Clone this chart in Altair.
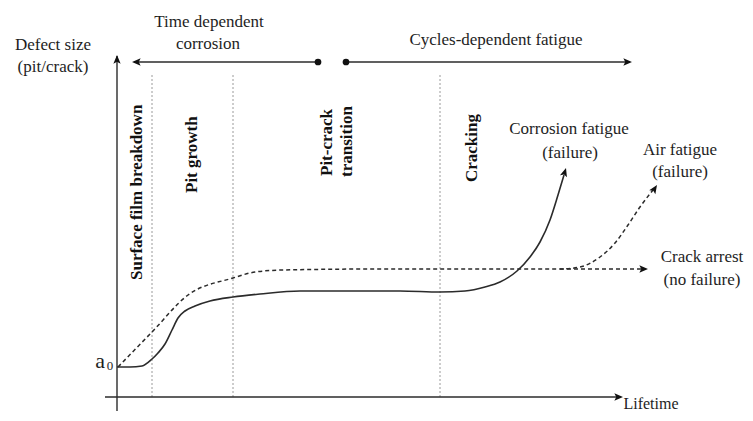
import altair as alt
import pandas as pd

# Schematic units: lifetime (t) and defect size (s), origin where the axes cross
# Corrosion fatigue (solid) curve
corr_t = [0, 13, 25, 35, 41, 48, 55, 61, 68, 78, 93, 116, 143, 183, 233, 283, 323, 348, 368, 383, 400, 413, 423, 433, 441, 447]
corr_s = [30, 30, 31, 38, 44, 53, 67, 79, 86, 91, 96, 100, 103, 106, 106, 106, 105, 106, 110, 115, 126, 140, 155, 177, 202, 222]
# Air fatigue (dashed) curve
air_t = [1, 35, 71, 116, 138, 166, 263, 350, 443, 463, 483, 498, 511, 523, 536]
air_s = [30, 65, 102, 119, 125, 127, 128, 128, 128, 130, 140, 154, 172, 190, 207]
# Crack arrest (dashed) continuation
arrest_t = [443, 528]
arrest_s = [128, 128]
# Phase boundaries (dotted)
phase_t = [35, 116, 323]
phase_top = 322

# Axes and top arrows: start, end, level
axis_y_t, axis_y_s0, axis_y_s1 = 0, -14, 341
axis_x_s, axis_x_t0, axis_x_t1 = 0, -12, 503
time_arrow = (201, 17, 335)     # dot t, tip t, level
cycle_arrow = (229, 513, 335)

# Arrow tips: t, s, angle (deg, clockwise from up)
tips_t = [0, 506, 15, 515, 449, 540, 531]
tips_s = [342, 0, 335, 335, 229, 212, 128]
tips_a = [0, 90, 270, 90, 17, 33, 90]

dots_t = [201, 229]
dots_s = [335, 335]

# Horizontal labels
lab_text = ["Defect size", "(pit/crack)", "Time dependent", "corrosion",
            "Cycles-dependent  fatigue", "Corrosion  fatigue", "(failure)",
            "Air fatigue", "(failure)", "Crack arrest", "(no failure)"]
lab_t = [-64, -64, 92, 91, 379, 452, 453, 563, 563, 585, 585]
lab_s = [352, 330, 375, 353, 357, 268, 244, 247, 225, 140, 117]

x_title, x_title_t, x_title_s = "Lifetime", 534, -12

# Rotated phase labels (anchored at their start, reading upward)
rot_text = ["Surface  film breakdown", "Pit growth", "Pit-crack", "transition", "Cracking"]
rot_t = [20, 75, 210, 230, 355]
rot_s = [117, 204, 221, 220, 215]

X = alt.X("t:Q", scale=alt.Scale(domain=[-109, 628], nice=False, zero=False), axis=None)
Y = alt.Y("s:Q", scale=alt.Scale(domain=[-16, 389], nice=False, zero=False), axis=None)

INK = "#2b2b2b"
FONT = "Liberation Serif"

corr = alt.Chart(pd.DataFrame({"t": corr_t, "s": corr_s})).mark_line(
    color=INK, strokeWidth=1.6, interpolate="monotone").encode(x=X, y=Y)
air = alt.Chart(pd.DataFrame({"t": air_t, "s": air_s})).mark_line(
    color=INK, strokeWidth=1.5, strokeDash=[4, 3], interpolate="monotone").encode(x=X, y=Y)
arrest = alt.Chart(pd.DataFrame({"t": arrest_t, "s": arrest_s})).mark_line(
    color=INK, strokeWidth=1.5, strokeDash=[4, 3]).encode(x=X, y=Y)

phases = alt.Chart(pd.DataFrame({"t": phase_t, "s": [0] * 3, "s2": [phase_top] * 3})).mark_rule(
    color="#9a9a9a", strokeWidth=1, strokeDash=[2, 2]).encode(x=X, y=Y, y2="s2:Q")

yaxis = alt.Chart(pd.DataFrame({"t": [axis_y_t], "s": [axis_y_s0], "s2": [axis_y_s1]})).mark_rule(
    color=INK, strokeWidth=1.4).encode(x=X, y=Y, y2="s2:Q")
xaxis = alt.Chart(pd.DataFrame({"t": [axis_x_t0], "t2": [axis_x_t1], "s": [axis_x_s]})).mark_rule(
    color=INK, strokeWidth=1.4).encode(x=X, x2="t2:Q", y=Y)
toparrows = alt.Chart(pd.DataFrame({
    "t": [time_arrow[0], cycle_arrow[0]],
    "t2": [time_arrow[1], cycle_arrow[1]],
    "s": [time_arrow[2], cycle_arrow[2]]})).mark_rule(
    color=INK, strokeWidth=1.6).encode(x=X, x2="t2:Q", y=Y)

ARROW = "M0,0L0.42,1L0,0.78L-0.42,1Z"
tips = alt.Chart(pd.DataFrame({"t": tips_t, "s": tips_s, "a": tips_a})).mark_point(
    shape=ARROW, filled=True, opacity=1, color="#111111", size=300).encode(
    x=X, y=Y, angle=alt.Angle("a:Q", scale=None))

dots = alt.Chart(pd.DataFrame({"t": dots_t, "s": dots_s})).mark_point(
    shape="circle", filled=True, opacity=1, color="#111111", size=45).encode(x=X, y=Y)

labels = alt.Chart(pd.DataFrame({"t": lab_t, "s": lab_s, "label": lab_text})).mark_text(
    font=FONT, fontSize=17, color="#1e1e1e", align="center", baseline="middle").encode(
    x=X, y=Y, text="label:N")

xlab = alt.Chart(pd.DataFrame({"t": [x_title_t], "s": [x_title_s], "label": [x_title]})).mark_text(
    font=FONT, fontSize=16, color="#1e1e1e", align="center", baseline="alphabetic").encode(
    x=X, y=Y, text="label:N")

rot = alt.Chart(pd.DataFrame({"t": rot_t, "s": rot_s, "label": rot_text})).mark_text(
    font=FONT, fontSize=17, fontWeight="bold", color="#111111", angle=270,
    align="left", baseline="middle").encode(x=X, y=Y, text="label:N")

a_lab = alt.Chart(pd.DataFrame({"t": [-17], "s": [29], "label": ["a"]})).mark_text(
    font=FONT, fontSize=22, color="#1e1e1e", align="center", baseline="alphabetic").encode(
    x=X, y=Y, text="label:N")
a_sub = alt.Chart(pd.DataFrame({"t": [-7], "s": [27], "label": ["0"]})).mark_text(
    font=FONT, fontSize=13, color="#1e1e1e", align="center", baseline="alphabetic").encode(
    x=X, y=Y, text="label:N")

chart = alt.layer(phases, yaxis, xaxis, toparrows, corr, air, arrest, tips, dots,
                  labels, xlab, rot, a_lab, a_sub).properties(
    width=737, height=405, padding=0,
    autosize=alt.AutoSizeParams(type="none"),
    background="white",
).configure_view(strokeWidth=0)

chart.save("out.html", embed_options={"renderer": "svg", "actions": False})
